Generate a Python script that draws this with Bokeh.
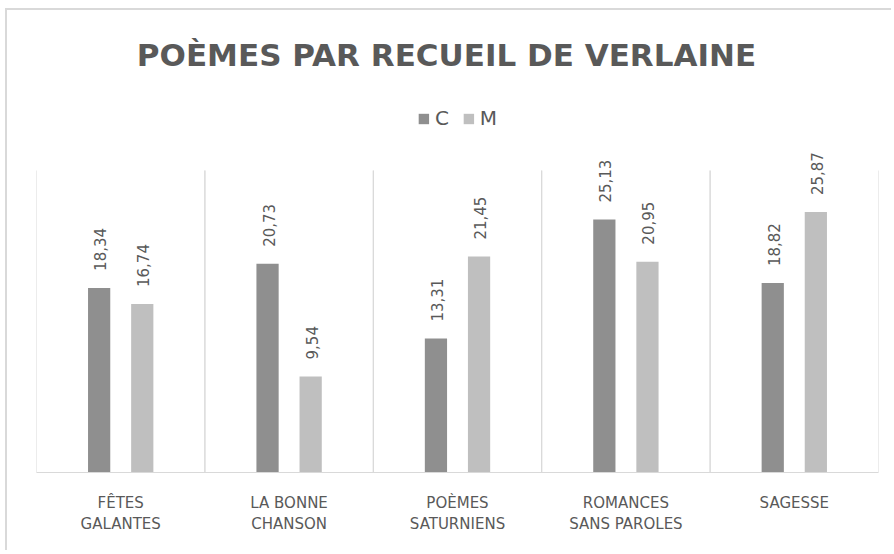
from bokeh.plotting import figure
from bokeh.models import ColumnDataSource, FactorRange, Range1d, Legend, LegendItem, Label
from bokeh.transform import dodge
from bokeh.embed import file_html
from bokeh.resources import INLINE
from bokeh.core.properties import value

title_text = "POÈMES PAR RECUEIL DE VERLAINE"
categories = ["FÊTES\nGALANTES", "LA BONNE\nCHANSON", "POÈMES\nSATURNIENS", "ROMANCES\nSANS PAROLES", "SAGESSE"]
series_names = ["C", "M"]
values_c = [18.34, 20.73, 13.31, 25.13, 18.82]
values_m = [16.74, 9.54, 21.45, 20.95, 25.87]
y_max = 30          # top of the category separators
y_view_top = 45.9   # frame extends above the bars to hold title and legend

colors = {"C": "#8F8F8F", "M": "#BFBFBF"}
text_color = "#595959"
grid_color = "#D9D9D9"
FONT = "DejaVu Sans"

def fmt(v):
    return f"{v:.2f}".replace(".", ",")

src = ColumnDataSource(dict(
    cat=categories,
    C=values_c,
    M=values_m,
    C_lbl=[fmt(v) for v in values_c],
    M_lbl=[fmt(v) for v in values_m],
    zero=[0] * len(categories),
    top=[y_max] * len(categories),
))

p = figure(
    width=886, height=542,
    x_range=FactorRange(*categories, range_padding=0, factor_padding=0),
    y_range=Range1d(0, y_view_top),
    output_backend="svg", toolbar_location=None, title_location=None,
    min_border_left=29, min_border_right=15, min_border_bottom=80, min_border_top=0,
)
p.styles = {"margin-left": "5px", "margin-top": "8px",
            "border-left": "2px solid #D9D9D9", "border-top": "2px solid #D9D9D9"}
p.outline_line_color = None
p.background_fill_color = "white"
p.border_fill_color = "white"
p.ygrid.visible = False
p.xgrid.visible = False
p.yaxis.visible = False

# category separators
p.segment(x0=dodge("cat", -0.5, range=p.x_range), y0="zero",
          x1=dodge("cat", -0.5, range=p.x_range), y1="top",
          source=src, line_color=grid_color, line_width=1)
p.segment(x0=dodge("cat", 0.5, range=p.x_range), y0="zero",
          x1=dodge("cat", 0.5, range=p.x_range), y1="top",
          source=src, line_color=grid_color, line_width=1)

off = 0.128
bw = 0.132
r_c = p.vbar(x=dodge("cat", -off, range=p.x_range), top="C", width=bw, source=src,
             fill_color=colors["C"], line_color=None)
r_m = p.vbar(x=dodge("cat", off, range=p.x_range), top="M", width=bw, source=src,
             fill_color=colors["M"], line_color=None)

for key, dx in (("C", -off), ("M", off)):
    p.text(x=dodge("cat", dx, range=p.x_range), y=key, text=f"{key}_lbl", source=src,
           angle=1.5708, text_align="left", text_baseline="middle", x_offset=1, y_offset=-17,
           text_font=value(FONT), text_font_size="15px", text_color=text_color)

ax = p.xaxis[0]
ax.axis_line_color = grid_color
ax.major_tick_line_color = None
ax.minor_tick_line_color = None
ax.major_label_standoff = 15
ax.major_label_text_font = FONT
ax.major_label_text_font_size = "15px"
ax.major_label_text_color = text_color
ax.major_label_text_line_height = 1.2

legend = Legend(items=[LegendItem(label=series_names[0], renderers=[r_c]),
                       LegendItem(label=series_names[1], renderers=[r_m])],
                orientation="horizontal", location="top_center",
                glyph_width=13, glyph_height=13, label_standoff=5, spacing=13,
                label_height=20, label_width=10,
                padding=0, margin=96, border_line_color=None, background_fill_alpha=0,
                label_text_font=FONT, label_text_font_size="20px", label_text_color=text_color)
p.add_layout(legend)

title = Label(x=2.5, y=41.5, x_offset=-11, text=title_text, text_align="center", text_baseline="middle",
              text_font=FONT, text_font_size="31px", text_font_style="bold", text_color=text_color)
p.add_layout(title)

open("out.html", "w").write(file_html(p, INLINE))
